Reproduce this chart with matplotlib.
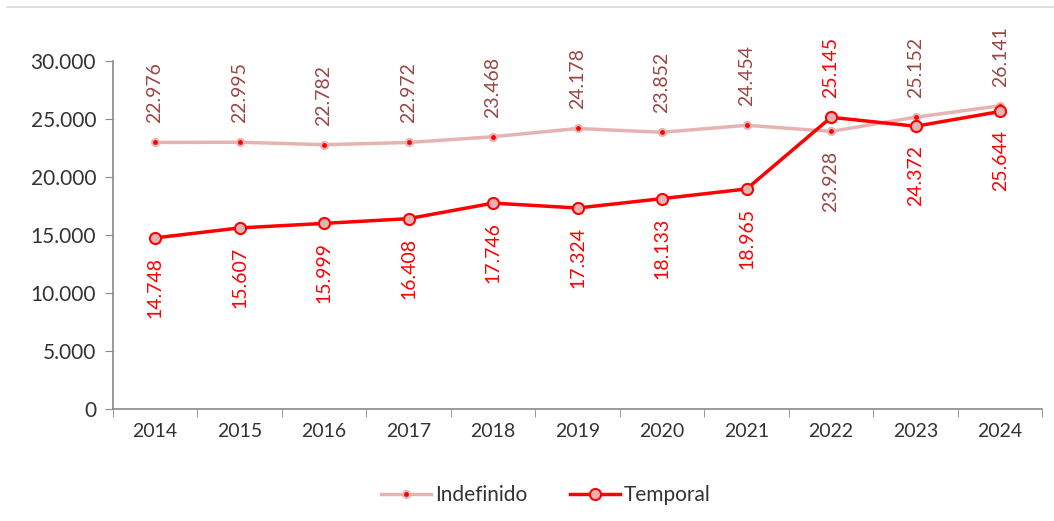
import matplotlib.pyplot as plt
from matplotlib.lines import Line2D

years = ['2014', '2015', '2016', '2017', '2018', '2019', '2020', '2021', '2022', '2023', '2024']
indefinido = [22976, 22995, 22782, 22972, 23468, 24178, 23852, 24454, 23928, 25152, 26141]
temporal = [14748, 15607, 15999, 16408, 17746, 17324, 18133, 18965, 25145, 24372, 25644]
# label above (1) or below (-1) the point
indef_side = [1, 1, 1, 1, 1, 1, 1, 1, -1, 1, 1]
temp_side = [-1, -1, -1, -1, -1, -1, -1, -1, 1, -1, -1]

plt.rcParams['font.family'] = ['Lato', 'DejaVu Sans']


def fmt(v):
    return f"{v:,}".replace(',', '.')


fig = plt.figure(figsize=(10.54, 5.21), dpi=100)
ax = fig.add_axes([0.107, 0.215, 0.882, 0.668])

x = list(range(len(years)))
pink = '#E6B3B3'
ax.plot(x, indefinido, color=pink, lw=2.5, marker='o', ms=5,
        mfc='#FF0000', mec=pink, mew=1.5, label='Indefinido', zorder=3)
ax.plot(x, temporal, color='#FF0000', lw=2.5, marker='o', ms=8,
        mfc='#E6B3B3', mec='#FF0000', mew=1.5, label='Temporal', zorder=4)

for i in x:
    for vals, side, col in ((indefinido, indef_side, '#9A4544'), (temporal, temp_side, '#FF0000')):
        off = 19 if side[i] > 0 else -19
        ax.annotate(fmt(vals[i]), (i, vals[i]), xytext=(0, off), textcoords='offset pixels',
                    rotation=90, ha='center', va='bottom' if side[i] > 0 else 'top',
                    fontsize=14, color=col)

ax.set_xlim(-0.5, len(years) - 0.5)
ax.set_ylim(0, 30000)
ax.set_yticks(range(0, 30001, 5000))
ax.set_yticklabels([fmt(v) for v in range(0, 30001, 5000)])
ax.set_xticks(x)
ax.set_xticklabels(years)
ax.set_xticks([i - 0.5 for i in range(len(years) + 1)], minor=True)
ax.tick_params(axis='x', which='major', length=0, pad=10, labelsize=14)
ax.tick_params(axis='x', which='minor', length=6, color='#898989')
ax.tick_params(axis='y', length=6, color='#898989', pad=6, labelsize=15)
ax.tick_params(labelcolor='#333333')
for s in ('top', 'right'):
    ax.spines[s].set_visible(False)
for s in ('left', 'bottom'):
    ax.spines[s].set_color('#898989')
    ax.spines[s].set_linewidth(1.2)

ax.legend(loc='upper center', bbox_to_anchor=(0.466, -0.165), ncol=2, frameon=False,
          fontsize=15, handlelength=2.4, columnspacing=2.0, handletextpad=0.2,
          labelcolor='#333333')

fig.add_artist(Line2D([0.007, 1.0], [0.987, 0.987], color='#D9D9D9', lw=1.2))

fig.savefig('out.png', dpi=100)
